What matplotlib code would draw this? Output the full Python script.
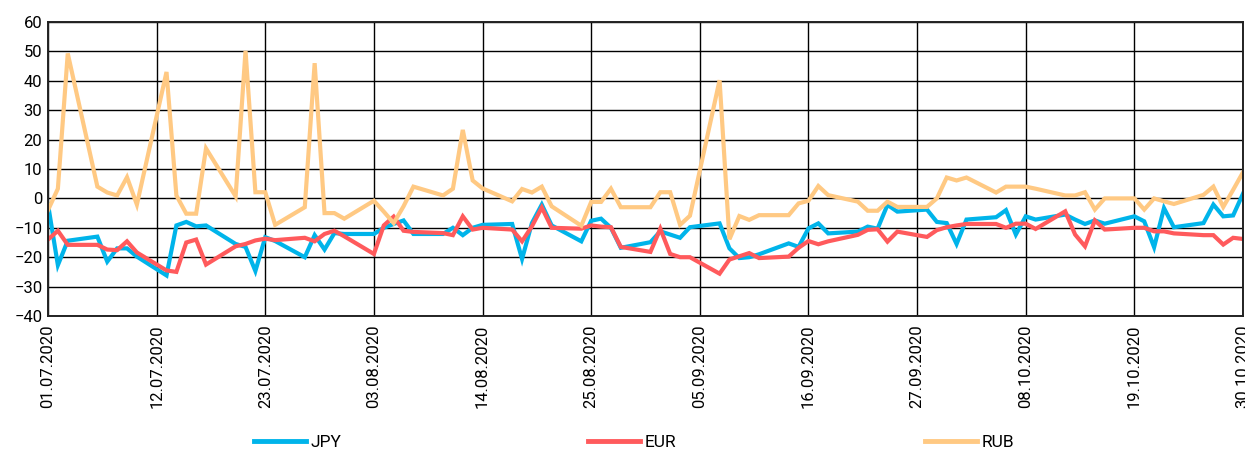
import pandas as pd
import matplotlib
matplotlib.use("Agg")
import matplotlib.pyplot as plt
import matplotlib.dates as mdates
from matplotlib.lines import Line2D

plt.rcParams['font.family'] = ['Liberation Sans Narrow', 'Roboto', 'DejaVu Sans']

# торговые дни 01.07.2020 - 30.10.2020
dates = pd.bdate_range('2020-07-01', '2020-10-30')

jpy = [
    -2, -22.7, -14.4, -13, -21.5, -17, -17, -19.8, -26.2, -9.2, -8, -9.5,
    -9.2, -15.5, -16.5, -24.7, -13.2, -14.5, -20, -12.5, -17.4, -11.8, -12.1,
    -12.1, -10, -8.7, -7.5, -12.1, -12.1, -10, -12.5, -10, -9, -8.7, -20.6,
    -8.4, -2.1, -9.2, -14.6, -7.6, -6.9, -10, -16.8, -14.9,
    -11.2, -12.3, -13.4, -9.8, -8.5, -17, -20.3, -20, -19, -15.3, -16.5,
    -10.2, -8.5, -11.9, -11.3, -9.6, -10.3, -2.2, -4.5, -3.8, -8, -8.4,
    -15.5, -7.2, -6.4, -4, -12.3, -6.1, -7.2, -5.5, -7.2, -8.7, -7.5, -8.6,
    -6.1, -7.8, -16.6, -3.3, -9.8, -8.4, -2.1, -6.1, -5.8, 1.6,
]
eur = [
    -14, -11, -15.8, -15.8, -17.4, -17.6, -14.6, -18.4, -24.5, -25, -15,
    -14, -22.5, -16.3, -15.5, -14.3, -13.7, -14.2, -13.4, -14.6, -12.1, -11,
    -12.9,
    -18.9, -9.2, -6.2, -11, -11.4, -11.8, -12.5, -6.1, -10.6, -10, -10.6,
    -14.6, -9.5, -3.1, -10, -10.3, -9.2, -9.6, -9.8, -16.5, -18.2,
    -10.3, -18.9, -20, -20, -25.6, -20.8, -19.7, -18.6, -20.3, -19.8, -16.8,
    -14.5, -15.6, -14.6, -12.4, -10.7, -10.5, -14.7, -11.3, -13.1, -10.8, -9.8,
    -9.2, -8.7, -8.7, -10, -8.6, -8.6, -10.4, -4.4, -12.3, -16.3, -7.5, -10.6,
    -10, -10, -11.2, -11.2, -11.9, -12.5, -12.5, -15.7, -13.4, -13.8,
]
rub = [
    -4, 3.3, 49.3, 4, 2, 1, 7.2, -2.1, 43, 1, -5.2, -5.2, 17, 0.7, 50.2, 2.1,
    2.1, -9, -3, 46, -5, -5, -6.9,
    -0.8, -4.5, -8.4, -2.7, 4, 1, 3.3, 23.3, 6.1, 3.4, -1, 3.2, 2, 4, -2.7,
    -9.3, -1.2, -1.2, 3.3, -3, -3,
    2.1, 2.1, -9, -5.9, 40.2, -13.9, -6, -7.3, -5.7, -5.7, -1.7, -0.8, 4.2, 1.1,
    -1.1, -4.2, -4.2, -1.1, -2.9, -2.9, 0, 7.1,
    6.1, 7.1, 2, 4, 4, 4, 3.3, 1, 1, 2.1, -3.8, 0, 0, -3.8, 0, -1, -1.9, 1.2,
    4, -2.9, 2.9, 8.9,
]

series = ['JPY', 'EUR', 'RUB']
colors = ['#00B4EA', '#FF5A5C', '#FFC983']

fig = plt.figure(figsize=(12.45, 4.51), dpi=100)
ax = fig.add_axes([48 / 1245, 1 - 316 / 451, 1195 / 1245, 294 / 451])

for name, vals, c in zip(series, [jpy, eur, rub], colors):
    ax.plot(dates, vals, color=c, lw=3, solid_joinstyle='miter', label=name)

ax.set_ylim(-40, 60)
ax.set_yticks(range(-40, 61, 10))
ax.set_xlim(pd.Timestamp('2020-07-01'), pd.Timestamp('2020-10-30'))
ax.set_xticks(pd.date_range('2020-07-01', '2020-10-30', freq='11D'))
ax.xaxis.set_major_formatter(mdates.DateFormatter('%d.%m.%Y'))
ax.tick_params(axis='x', rotation=90, length=0, pad=6, labelsize=12)
ax.tick_params(axis='y', length=0, pad=4, labelsize=12)

ax.grid(True, color='black', lw=1.0)
ax.set_axisbelow(True)
for s in ax.spines.values():
    s.set_color('#222222')
    s.set_linewidth(1.4)

# легенда: три отдельных элемента внизу
legend_x = [254, 588, 925]
for name, c, x in zip(series, colors, legend_x):
    h = Line2D([], [], color=c, lw=3.5)
    fig.legend([h], [name], loc='center left',
               bbox_to_anchor=(x / 1245, 1 - 442 / 451),
               frameon=False, borderpad=0, borderaxespad=0,
               handlelength=3.0, handletextpad=0.25, fontsize=12.5)

fig.savefig('out.png', dpi=100)
